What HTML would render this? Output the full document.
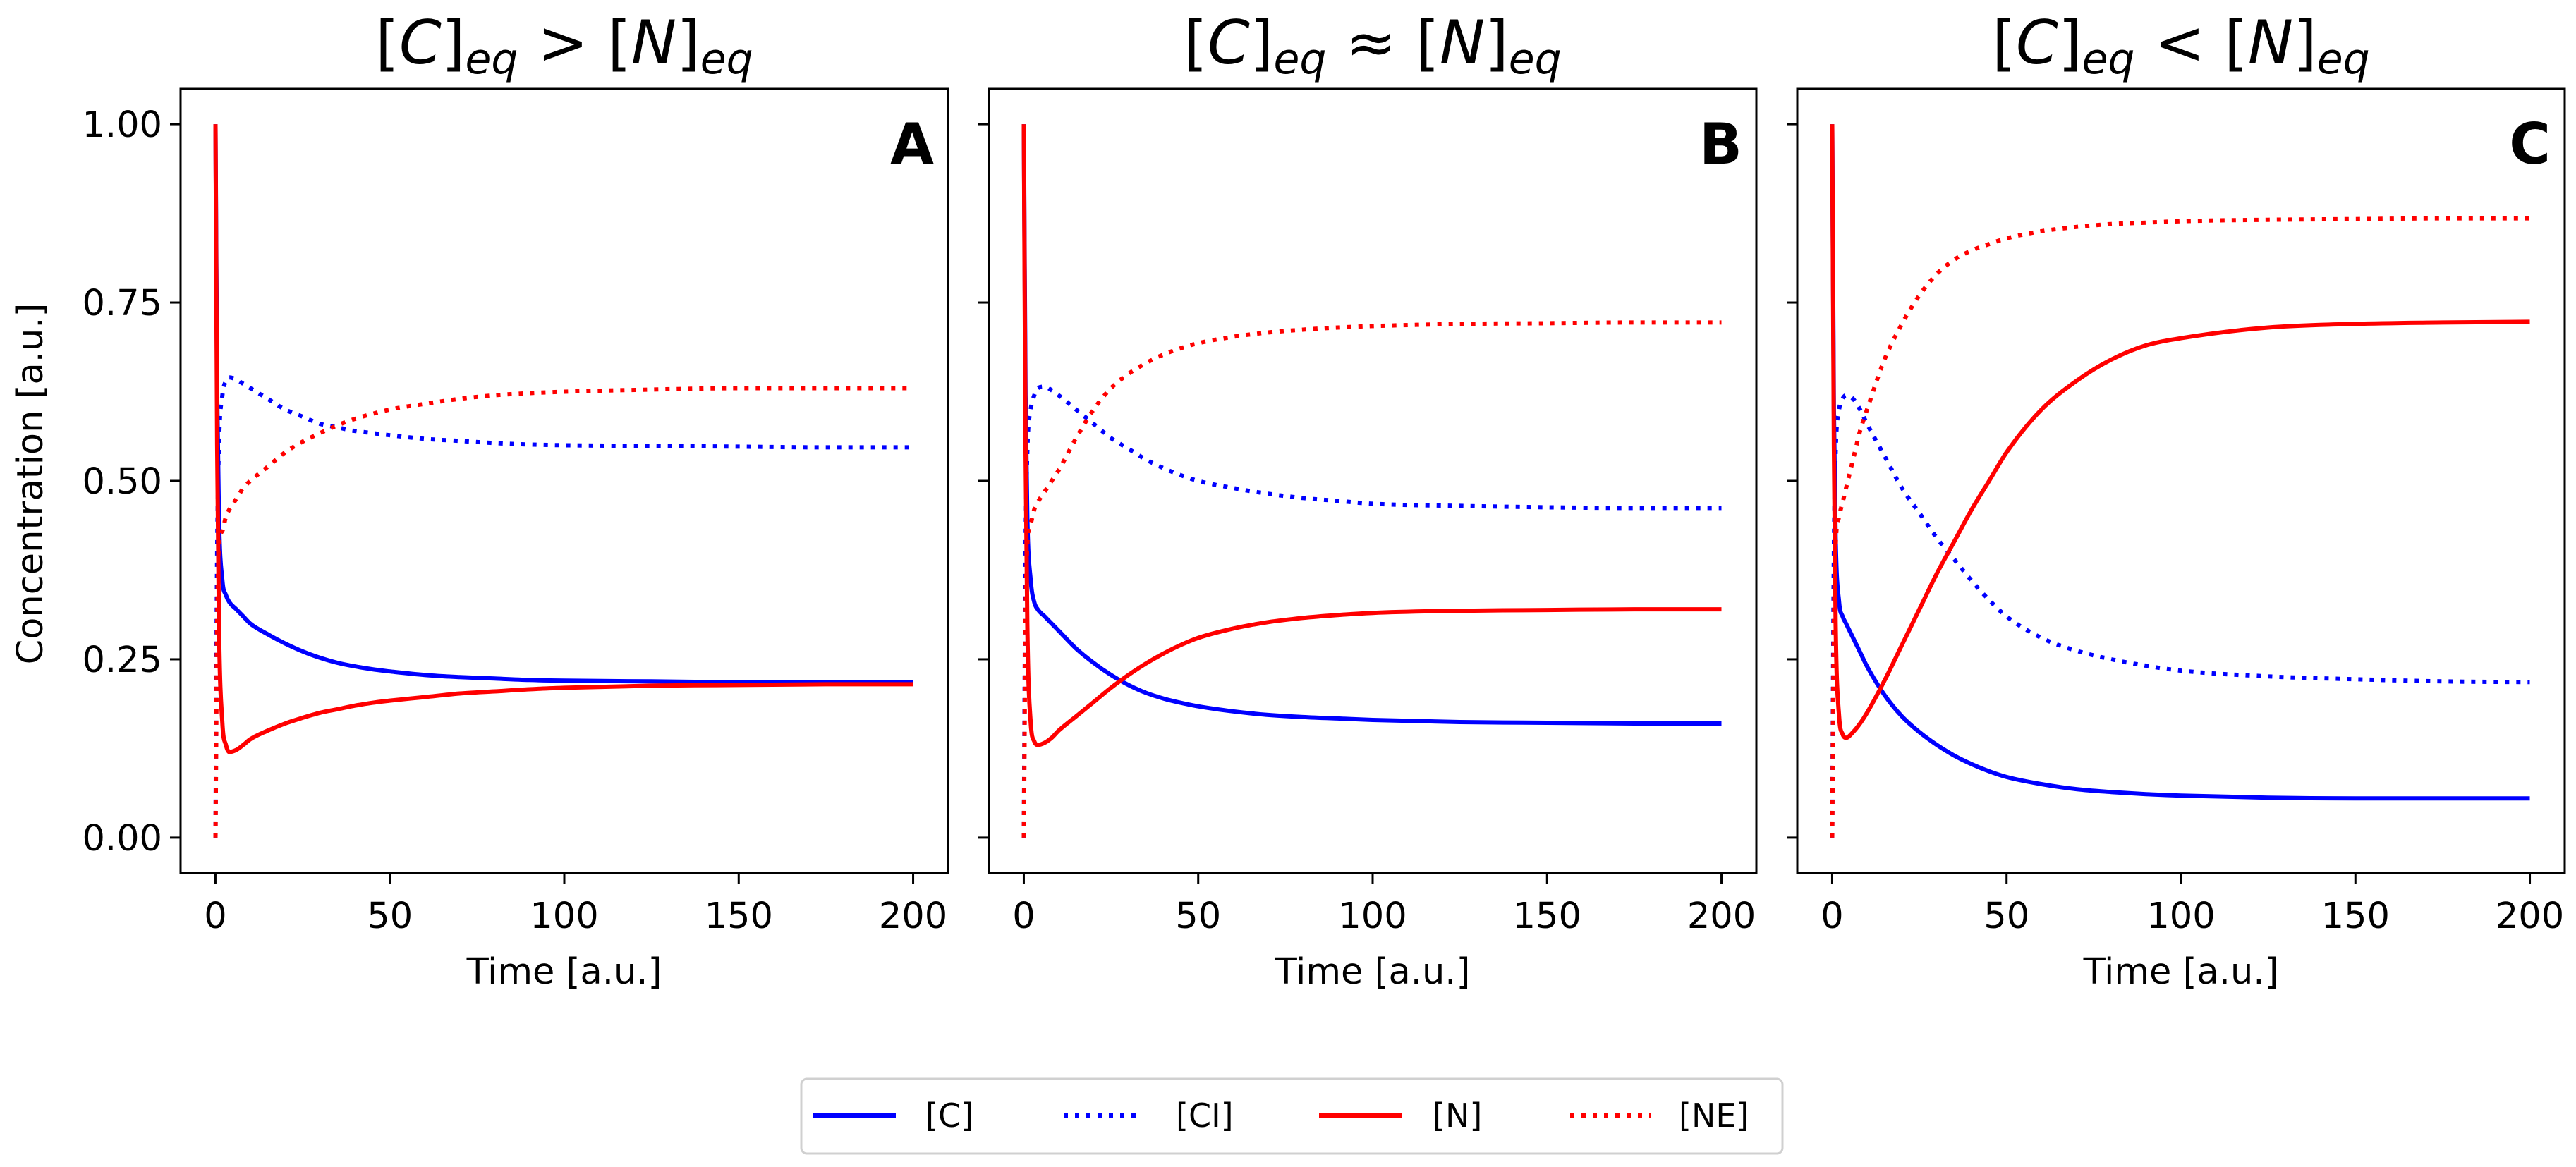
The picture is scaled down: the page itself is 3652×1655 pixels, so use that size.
<!DOCTYPE html>
<html><head><meta charset="utf-8">
<style>
html,body{margin:0;padding:0;background:#fff;}
svg{display:block;font-family:"DejaVu Sans","Liberation Sans",sans-serif;}
</style></head>
<body>
<svg id="chart" width="3652" height="1655" viewBox="0 0 3652 1655" xmlns="http://www.w3.org/2000/svg">
<g id="panels"></g>
<g>
<rect x="1136" y="1530" width="1391" height="106" rx="8" fill="#fff" stroke="#d0d0d0" stroke-width="3"/>
<g><line x1="1153" y1="1582" x2="1270" y2="1582" stroke="#0000ff" stroke-width="6"/><text x="1312" y="1598" font-size="46">[C]</text></g>
<g><line x1="1508" y1="1582" x2="1610" y2="1582" stroke="#0000ff" stroke-width="6" stroke-dasharray="6,10"/><text x="1667" y="1598" font-size="46">[CI]</text></g>
<g><line x1="1870" y1="1582" x2="1987" y2="1582" stroke="#ff0000" stroke-width="6"/><text x="2031" y="1598" font-size="46">[N]</text></g>
<g><line x1="2226" y1="1582" x2="2340" y2="1582" stroke="#ff0000" stroke-width="6" stroke-dasharray="6,10"/><text x="2380" y="1598" font-size="46">[NE]</text></g>
</g>
</svg>
<script>
const times = [0,0.5,1,2,3,4,6,8,10,15,20,25,30,35,40,45,50,60,70,80,90,100,125,150,175,200];
const xTicks = [0,50,100,150,200];
const yTicks = [0,0.25,0.5,0.75,1.0];
const yTickLabels = ["0.00","0.25","0.50","0.75","1.00"];
const panelLetters = ["A","B","C"];
const panelRelations = [">","\u2248","<"];
const cA  = [1,0.62,0.45,0.36,0.34,0.33,0.32,0.31,0.30,0.285,0.272,0.261,0.252,0.245,0.24,0.236,0.233,0.228,0.225,0.223,0.221,0.220,0.219,0.218,0.218,0.218];
const ciA = [0,0.40,0.55,0.62,0.64,0.645,0.642,0.636,0.63,0.615,0.60,0.59,0.58,0.575,0.57,0.567,0.564,0.559,0.556,0.553,0.551,0.550,0.549,0.548,0.547,0.547];
const nA  = [1,0.55,0.30,0.16,0.13,0.12,0.123,0.13,0.138,0.15,0.16,0.168,0.175,0.18,0.185,0.189,0.192,0.197,0.202,0.205,0.208,0.210,0.213,0.214,0.215,0.215];
const neA = [0,0.30,0.41,0.43,0.45,0.46,0.475,0.49,0.50,0.52,0.54,0.555,0.567,0.578,0.587,0.594,0.60,0.608,0.615,0.62,0.623,0.625,0.628,0.63,0.63,0.63];
const cB  = [1,0.62,0.45,0.36,0.33,0.32,0.31,0.30,0.29,0.265,0.245,0.228,0.214,0.203,0.195,0.189,0.184,0.177,0.172,0.169,0.167,0.165,0.162,0.161,0.16,0.16];
const ciB = [0,0.40,0.54,0.60,0.62,0.63,0.632,0.627,0.62,0.60,0.58,0.56,0.545,0.53,0.518,0.508,0.50,0.49,0.482,0.476,0.472,0.468,0.465,0.463,0.462,0.462];
const nB  = [1,0.55,0.30,0.16,0.135,0.13,0.133,0.14,0.15,0.17,0.19,0.21,0.228,0.244,0.258,0.27,0.28,0.293,0.302,0.308,0.312,0.315,0.318,0.319,0.32,0.32];
const neB = [0,0.30,0.41,0.44,0.46,0.47,0.485,0.50,0.515,0.56,0.60,0.63,0.65,0.665,0.677,0.686,0.693,0.702,0.708,0.712,0.715,0.717,0.72,0.721,0.722,0.722];
const cC  = [1,0.60,0.42,0.33,0.31,0.30,0.28,0.26,0.24,0.20,0.17,0.148,0.13,0.115,0.103,0.093,0.085,0.075,0.068,0.064,0.061,0.059,0.056,0.055,0.055,0.055];
const ciC = [0,0.40,0.54,0.60,0.615,0.62,0.615,0.60,0.58,0.535,0.49,0.455,0.42,0.39,0.36,0.333,0.31,0.28,0.262,0.25,0.241,0.234,0.226,0.222,0.219,0.218];
const nC  = [1,0.55,0.30,0.17,0.145,0.14,0.148,0.16,0.175,0.22,0.27,0.32,0.37,0.415,0.46,0.50,0.54,0.60,0.64,0.67,0.69,0.70,0.715,0.72,0.722,0.723];
const neC = [0,0.30,0.41,0.45,0.47,0.49,0.53,0.57,0.60,0.67,0.72,0.76,0.79,0.81,0.823,0.832,0.84,0.85,0.856,0.86,0.862,0.864,0.866,0.867,0.868,0.868];
const panelSeries = [[cA,ciA,nA,neA],[cB,ciB,nB,neB],[cC,ciC,nC,neC]];
const seriesNames = ["c","ci","n","ne"];
const seriesColors = ["#0000ff","#0000ff","#ff0000","#ff0000"];
const seriesDotted = [false,true,false,true];

const NS = "http://www.w3.org/2000/svg";
const panelsG = document.getElementById("panels");
const panelLefts = [256,1402,2548];
const PW = 1088, PT = 126, PB = 1238;
const xMin = -10, xMax = 210, yMin = -0.0495, yMax = 1.0495;
function mk(tag, attrs, parent){const e=document.createElementNS(NS,tag);for(const k in attrs)e.setAttribute(k,attrs[k]);parent.appendChild(e);return e;}

// monotone cubic path through pixel points
function monoPath(P){
  const n=P.length, d=[], m=[];
  for(let i=0;i<n-1;i++){const dx=P[i+1][0]-P[i][0];d.push(dx===0?0:(P[i+1][1]-P[i][1])/dx);}
  m[0]=d[0]; m[n-1]=d[n-2];
  for(let i=1;i<n-1;i++){ m[i]=(d[i-1]*d[i]<=0)?0:(d[i-1]+d[i])/2; }
  for(let i=0;i<n-1;i++){ if(d[i]===0){m[i]=0;m[i+1]=0;continue;} const a=m[i]/d[i],b=m[i+1]/d[i],s=a*a+b*b; if(s>9){const t=3/Math.sqrt(s);m[i]=t*a*d[i];m[i+1]=t*b*d[i];} }
  let s="M"+P[0][0].toFixed(1)+","+P[0][1].toFixed(1);
  for(let i=0;i<n-1;i++){const dx=(P[i+1][0]-P[i][0])/3;
    s+=" C"+(P[i][0]+dx).toFixed(1)+","+(P[i][1]+m[i]*dx).toFixed(1)+" "+(P[i+1][0]-dx).toFixed(1)+","+(P[i+1][1]-m[i+1]*dx).toFixed(1)+" "+P[i+1][0].toFixed(1)+","+P[i+1][1].toFixed(1);}
  return s;
}

panelLefts.forEach((L, p) => {
  const xs = v => L + (v - xMin) / (xMax - xMin) * PW;
  const ys = v => PB - (v - yMin) / (yMax - yMin) * (PB - PT);
  const g = mk("g", {}, panelsG);
  
  
  const t = mk("text", {x: L + PW/2, y: 90, "font-size": 86, "text-anchor": "middle"}, g);
  
  
  t.innerHTML = '[<tspan font-style="italic">C</tspan>]<tspan font-style="italic" font-size="60" dy="14">eq</tspan><tspan dy="-14"> ' + panelRelations[p] + ' </tspan>[<tspan font-style="italic">N</tspan>]<tspan font-style="italic" font-size="60" dy="14">eq</tspan>';
  const cp = mk("clipPath", {id: "clip" + p}, g);
  mk("rect", {x: L, y: PT, width: PW, height: PB - PT}, cp);
  const sg = mk("g", {"clip-path": "url(#clip" + p + ")"}, g);
  panelSeries[p].forEach((arr, s) => {
    const P = times.map((tt, i) => [xs(tt), ys(arr[i])]);
    const pl = mk("path", {d: monoPath(P), fill: "none", stroke: seriesColors[s], "stroke-width": 6, "stroke-linejoin": "round"}, sg);
    if (seriesDotted[s]) pl.setAttribute("stroke-dasharray", "6,10");
    
    
  });
  const fr = mk("rect", {x: L, y: PT, width: PW, height: PB - PT, fill: "none", stroke: "#000", "stroke-width": 3}, g);
  
  
  xTicks.forEach(v => {
    mk("line", {x1: xs(v), y1: PB, x2: xs(v), y2: PB + 15, stroke: "#000", "stroke-width": 3}, g);
    const tl = mk("text", {x: xs(v), y: PB + 78, "font-size": 51, "text-anchor": "middle"}, g);
    tl.textContent = v;
    
    
  });
  const xt = mk("text", {x: L + PW/2, y: 1395, "font-size": 51, "text-anchor": "middle"}, g);
  xt.textContent = "Time [a.u.]";
  
  
  yTicks.forEach((v, i) => {
    mk("line", {x1: L - 15, y1: ys(v), x2: L, y2: ys(v), stroke: "#000", "stroke-width": 3}, g);
    if (p === 0) {
      const yl = mk("text", {x: L - 26, y: ys(v) + 18, "font-size": 51, "text-anchor": "end"}, g);
      yl.textContent = yTickLabels[i];
      
      
    }
  });
  if (p === 0) {
    const yt = mk("text", {x: 0, y: 0, "font-size": 51, "text-anchor": "middle", transform: "translate(60,686) rotate(-90)"}, g);
    yt.textContent = "Concentration [a.u.]";
    
    
  }
  const lt = mk("text", {x: L + PW - 20, y: 232, "font-size": 80, "font-weight": "bold", "text-anchor": "end"}, g);
  lt.textContent = panelLetters[p];
  
  
});
</script>
</body></html>
